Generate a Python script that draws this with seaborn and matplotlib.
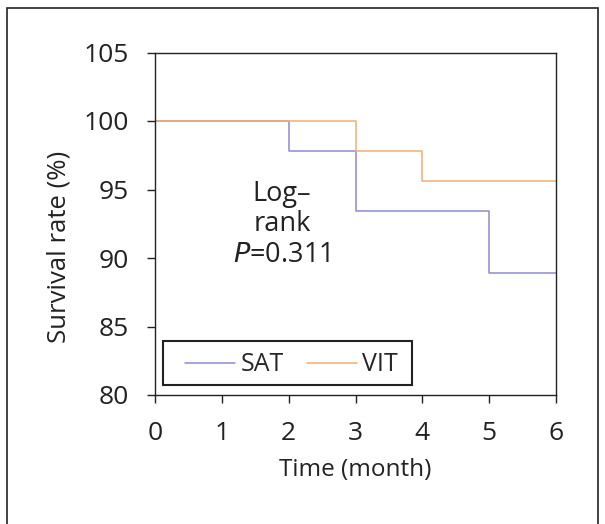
import matplotlib
matplotlib.use("Agg")
import matplotlib.pyplot as plt
import seaborn as sns
import pandas as pd
from matplotlib.patches import Rectangle

# Data
months = [0, 1, 2, 3, 4, 5, 6]
sat_rate = [100, 100, 97.8, 93.4, 93.4, 88.9, 88.9]
vit_rate = [100, 100, 100, 97.8, 95.6, 95.6, 95.6]
groups = ["SAT", "VIT"]
colors = ["#8c8cd2", "#f2ae72"]
yticks = [80, 85, 90, 95, 100, 105]

df = pd.DataFrame({
    "Time": months * 2,
    "Rate": sat_rate + vit_rate,
    "Group": [groups[0]] * len(months) + [groups[1]] * len(months),
})

sns.set_style("white")
plt.rcParams["font.family"] = ["Open Sans", "DejaVu Sans"]

fig = plt.figure(figsize=(6.05, 5.24), dpi=100)
ax = fig.add_axes([155 / 605, 1 - 395 / 524, (556 - 155) / 605, (395 - 52.5) / 524])

sns.lineplot(data=df, x="Time", y="Rate", hue="Group", palette=colors,
             drawstyle="steps-post", linewidth=1.1, ax=ax, legend=True)

ax.set_xlim(0, 6)
ax.set_ylim(80, 105)
ax.set_xticks(months)
ax.set_yticks(yticks)
ax.tick_params(axis="both", direction="out", length=6, width=1, labelsize=19,
               color="#222222", labelcolor="#222222", bottom=True, left=True)
ax.tick_params(axis="x", pad=13)
ax.tick_params(axis="y", pad=13)
for s in ax.spines.values():
    s.set_visible(True)
    s.set_color("#222222")
    s.set_linewidth(1)
ax.set_xlabel("Time (month)", fontsize=17.5, color="#222222", labelpad=8)
ax.set_ylabel("Survival rate (%)", fontsize=18.5, color="#222222")
ax.yaxis.set_label_coords(-0.207, 0.432)

ax.text(1.90, 92.45, "Log–\nrank\n$\\mathit{P}$=0.311", ha="center", va="center",
        fontsize=19.5, linespacing=1.12, color="#222222")

leg = ax.legend(loc="center left", bbox_to_anchor=(0.076, 0.088), ncol=2, fontsize=18,
                frameon=False, handlelength=2.0, columnspacing=0.95,
                handletextpad=0.2, borderpad=0.0, borderaxespad=0.0)
ax.add_patch(Rectangle((0.020, 0.029), 0.620, 0.128, transform=ax.transAxes,
                       fill=False, edgecolor="#222222", linewidth=1.5, zorder=5))

fig.patches.append(Rectangle((7 / 605, -0.05), (598 - 7) / 605, 1 - 8 / 524 + 0.05,
                             transform=fig.transFigure, fill=False, edgecolor="#222222",
                             linewidth=1.2))

fig.savefig("out.png", dpi=100)
